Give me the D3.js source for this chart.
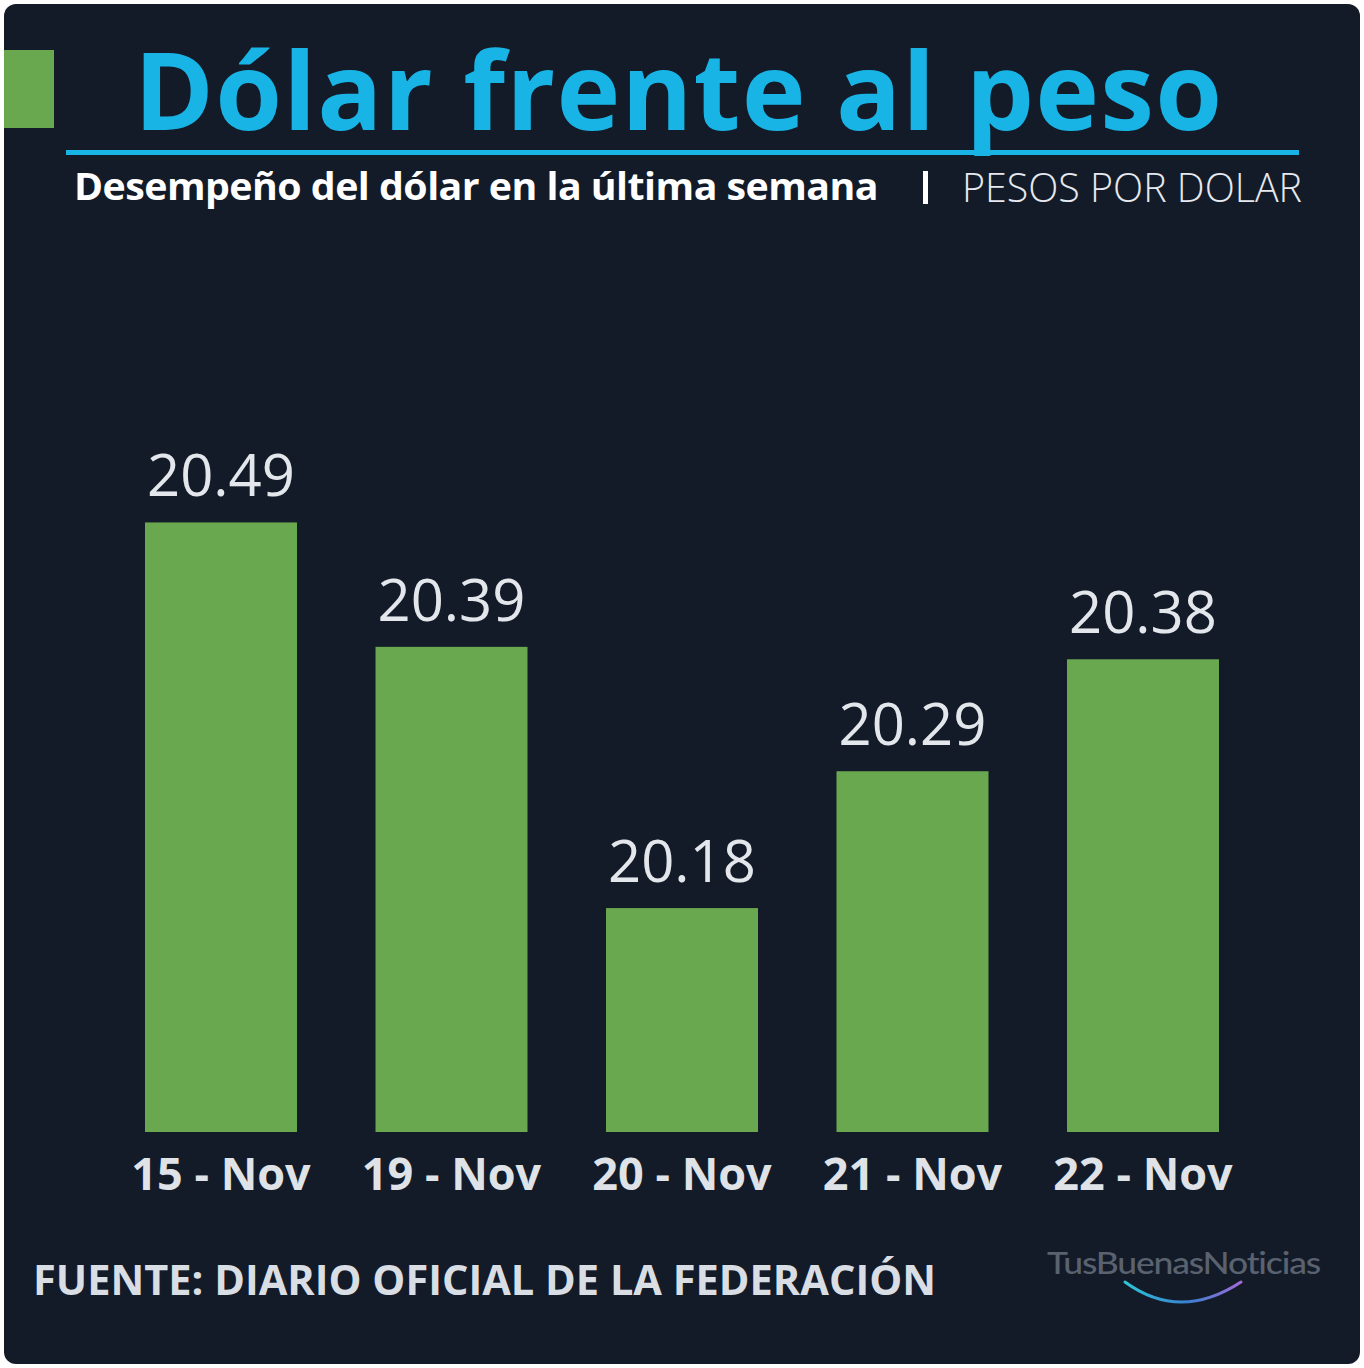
<!DOCTYPE html>
<html><head><meta charset="utf-8">
<script src="https://cdn.jsdelivr.net/npm/d3@7"></script>
<style>html,body{margin:0;padding:0;background:#fff;}svg{display:block;}</style>
</head><body>
<script>
const categories = ["15 - Nov", "19 - Nov", "20 - Nov", "21 - Nov", "22 - Nov"];
const values = [20.49, 20.39, 20.18, 20.29, 20.38];
const valueLabels = ["20.49", "20.39", "20.18", "20.29", "20.38"];
const titleText = "Dólar frente al peso";
const subtitleText = "Desempeño del dólar en la última semana";
const unitText = "PESOS POR DOLAR";
const sourceText = "FUENTE: DIARIO OFICIAL DE LA FEDERACIÓN";
const logoText = "TusBuenasNoticias";

const W = 1364, H = 1368;
const svg = d3.select("body").append("svg").attr("width", W).attr("height", H);
const defs = svg.append("defs");
const grad = defs.append("linearGradient").attr("id","arcg").attr("x1","0%").attr("x2","100%");
grad.append("stop").attr("offset","0%").attr("stop-color","#2ec4d6");
grad.append("stop").attr("offset","55%").attr("stop-color","#3a7fd0");
grad.append("stop").attr("offset","100%").attr("stop-color","#a46ad8");

svg.append("rect").attr("x",4).attr("y",4).attr("width",1356).attr("height",1360)
  .attr("rx",12).attr("fill","#131b28");

// green marker
svg.append("rect").attr("x",4).attr("y",50).attr("width",50).attr("height",78).attr("fill","#6aa84f");

svg.append("text").attr("x",134).attr("y",130)
  .attr("font-family","'Open Sans', sans-serif").attr("font-weight",700).attr("font-size",108)
  .attr("fill","#18b4e6").attr("textLength",1088).attr("lengthAdjust","spacing")
  .text(titleText);

svg.append("rect").attr("x",66).attr("y",150).attr("width",1233).attr("height",5).attr("fill","#18b4e6");

svg.append("text").attr("x",74).attr("y",200)
  .attr("font-family","'Open Sans', sans-serif").attr("font-weight",700).attr("font-size",37)
  .attr("fill","#ffffff").attr("textLength",804).attr("lengthAdjust","spacingAndGlyphs")
  .attr("letter-spacing",-0.5)
  .text(subtitleText);
svg.append("rect").attr("x",923).attr("y",171).attr("width",5).attr("height",33).attr("fill","#ffffff");
svg.append("text").attr("x",962).attr("y",202)
  .attr("font-family","'Open Sans', sans-serif").attr("font-weight",300).attr("font-size",40)
  .attr("fill","#e6e9ee").attr("textLength",340).attr("lengthAdjust","spacingAndGlyphs")
  .text(unitText);

// scales
const x = d3.scaleBand().domain(categories).range([145, 1219]).paddingInner(0.3406).paddingOuter(0);
const y = d3.scaleLinear().domain([20, 20.5]).range([1132, 510]);

const g = svg.append("g");
g.selectAll("rect.bar").data(values).join("rect").attr("class","bar")
  .attr("x",(d,i)=>x(categories[i])).attr("width",x.bandwidth())
  .attr("y",d=>y(d)).attr("height",d=>y(20)-y(d)).attr("fill","#6aa84f");

g.selectAll("text.val").data(values).join("text").attr("class","val")
  .attr("x",(d,i)=>x(categories[i])+x.bandwidth()/2).attr("y",d=>y(d)-26)
  .attr("text-anchor","middle").attr("font-family","'Open Sans', sans-serif")
  .attr("font-weight",400).attr("font-size",58).attr("fill","#e3e7ec")
  .text((d,i)=>valueLabels[i]);

const xAxis = d3.axisBottom(x).tickSize(0).tickPadding(0);
const ax = svg.append("g").attr("transform","translate(0,1190)").call(xAxis);
ax.select(".domain").remove();
ax.selectAll("text").attr("dy",0).attr("font-family","'Open Sans', sans-serif")
  .attr("font-weight",700).attr("font-size",45).attr("fill","#dfe3e8");

svg.append("text").attr("x",33).attr("y",1295)
  .attr("font-family","'Open Sans', sans-serif").attr("font-weight",700).attr("font-size",41)
  .attr("fill","#d9dee4").attr("textLength",903).attr("lengthAdjust","spacingAndGlyphs")
  .text(sourceText);

svg.append("text").attr("x",1047).attr("y",1274)
  .attr("font-family","'Lato', sans-serif").attr("font-weight",500).attr("font-size",31)
  .attr("fill","#5a6270").attr("textLength",273).attr("lengthAdjust","spacingAndGlyphs")
  .attr("letter-spacing",-1)
  .text(logoText);
svg.append("path").attr("d","M1125,1282 Q1180,1322 1241,1282")
  .attr("fill","none").attr("stroke","url(#arcg)").attr("stroke-width",3).attr("stroke-linecap","round");
</script>
</body></html>
